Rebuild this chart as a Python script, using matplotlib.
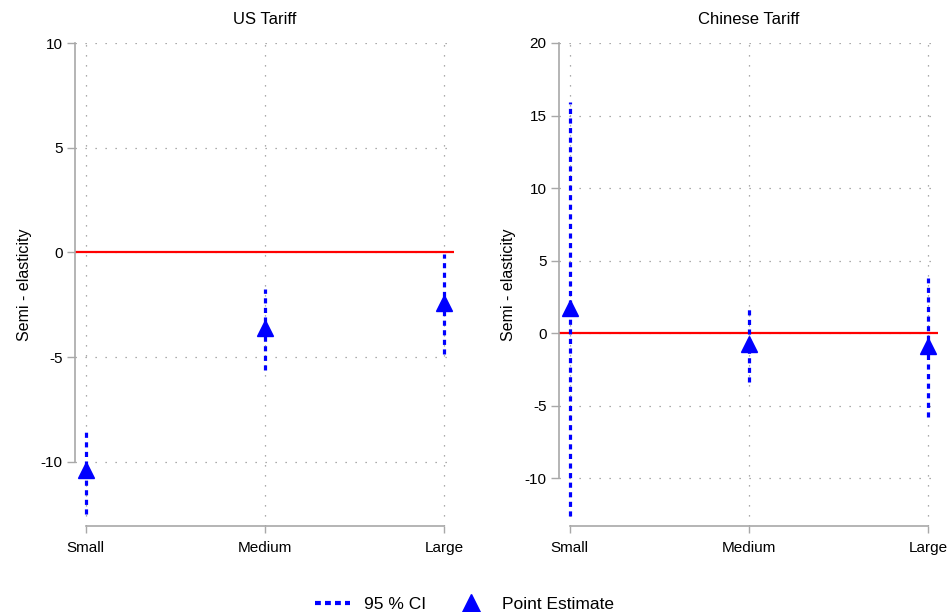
import matplotlib.pyplot as plt
import numpy as np
from matplotlib.lines import Line2D

plt.rcParams["font.family"] = ["Liberation Sans", "DejaVu Sans"]
plt.rcParams["axes.unicode_minus"] = False

sizes = ["Small", "Medium", "Large"]

# US tariff: point estimates and 95% CI bounds
us_est = [-10.4, -3.6, -2.4]
us_lo = [-12.5, -5.6, -4.85]
us_hi = [-8.5, -1.75, -0.05]

# Chinese tariff
cn_est = [1.7, -0.75, -0.9]
cn_lo = [-12.6, -3.4, -5.8]
cn_hi = [15.9, 1.85, 3.8]

panels = [
    ("US Tariff", us_est, us_lo, us_hi, [-10, -5, 0, 5, 10], (-13.06, 10)),
    ("Chinese Tariff", cn_est, cn_lo, cn_hi, [-10, -5, 0, 5, 10, 15, 20], (-13.3, 20)),
]

fig = plt.figure(figsize=(9.48, 6.12), dpi=100)
lefts = [75 / 948, 559 / 948]
blue = "#0000ff"
gray = "#a8a8a8"
x = np.arange(1, 4)

for left, (title, est, lo, hi, yticks, ylim) in zip(lefts, panels):
    ax = fig.add_axes([left, 1 - 526 / 612, 379 / 948, 483 / 612])
    ax.set_xlim(0.94, 3.056)
    ax.set_ylim(*ylim)
    ax.set_yticks(yticks)
    ax.set_xticks(x)
    ax.set_xticklabels(sizes)
    ax.grid(True, color="#909090", linestyle=(0, (1, 7)), linewidth=0.9)
    ax.set_axisbelow(True)
    ax.axhline(0, color="#ff0000", lw=1.6, zorder=2)
    for xi, l, h in zip(x, lo, hi):
        ax.plot([xi, xi], [l, h], color=blue, lw=2.3,
                linestyle=(0, (1.6, 1.4)), zorder=3)
    ax.plot(x, est, linestyle="none", marker="^", markersize=11,
            color=blue, zorder=4)
    for s in ["top", "right"]:
        ax.spines[s].set_visible(False)
    ax.spines["left"].set_color(gray)
    ax.spines["bottom"].set_color(gray)
    ax.spines["left"].set_linewidth(1.2)
    ax.spines["bottom"].set_linewidth(1.2)
    ax.spines["left"].set_bounds(yticks[0], yticks[-1])
    ax.spines["bottom"].set_bounds(1, 3)
    ax.tick_params(axis="y", length=6, width=1, color=gray, labelsize=11, pad=3)
    ax.tick_params(axis="x", length=5, width=1, color=gray, labelsize=11, pad=6)
    ax.set_title(title, fontsize=12, pad=14)
    ax.set_ylabel("Semi - elasticity", fontsize=11.5, labelpad=6)

handles = [
    Line2D([0], [0], color=blue, lw=3, linestyle=(0, (1.4, 1.0))),
    Line2D([0], [0], color=blue, linestyle="none", marker="^", markersize=13),
]
fig.legend(handles, ["95 % CI", "Point Estimate"], loc="lower center",
           ncol=2, frameon=False, fontsize=12.5, handlelength=2.0,
           columnspacing=1.6, bbox_to_anchor=(0.49, -0.025))

fig.savefig("out.png", dpi=100)
